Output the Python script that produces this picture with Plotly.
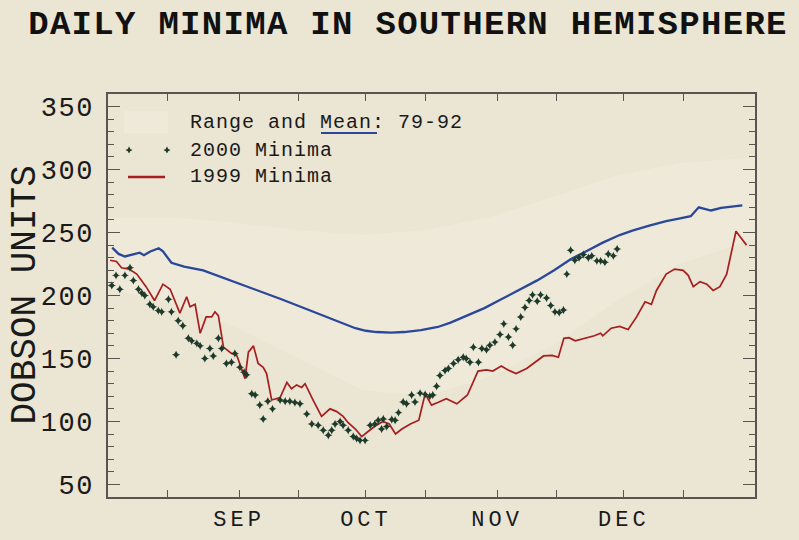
import plotly.graph_objects as go

# ---------------- data (x = days since 1 Aug) ----------------
mean_days = [1, 2.5, 4, 6, 7.5, 8.5, 10, 12, 13, 15, 18, 22.5, 27, 31, 36, 41, 46, 51, 55, 58.5,
             61, 63.5, 67, 70, 74, 78, 81, 85, 89, 93, 97, 101.5, 105.5, 109.5, 113, 117, 121,
             124, 128, 132, 135, 137.8, 139.7, 141, 142.6, 145, 148, 150]
mean_vals = [238, 233, 231, 233, 234, 232, 235, 237.5, 235, 226, 223, 220, 214.5, 209, 203, 197,
             190.5, 184, 178.5, 174, 172, 171, 170.5, 171, 172.5, 175, 178.5, 184, 190, 197, 204,
             212, 220, 229, 235, 242, 248, 251.5, 255.5, 259, 261, 263, 270, 269, 267.5, 269.5,
             271, 271.5]

range_days = [0, 15, 30, 45, 60, 75, 90, 105, 120, 135, 153]
range_high = [262, 262, 258, 252, 248, 252, 262, 278, 295, 305, 310]
range_low = [205, 195, 175, 150, 125, 120, 135, 160, 195, 225, 245]

red_days = [0.5, 2, 3.2, 5, 6.8, 9, 11, 13, 14.7, 17, 18.6, 19.4, 20.6, 21.8, 23.2, 24.5, 25.3,
            26.1, 27.3, 29.2, 30.4, 32.4, 33.2, 34.4, 35.5, 36.7, 37.5, 38.7, 40.7, 42.3, 43.4,
            44.6, 45.8, 46.6, 48.5, 50.5, 52.5, 54, 55.6, 56.8, 58.5, 60, 61.5, 63, 65, 66.5,
            68, 69.5, 71.5, 73.5, 75, 76.5, 78, 80, 82.5, 85, 87.5, 89.5, 91, 93, 94.5, 96.5,
            99, 101, 103, 105, 106.5, 107.8, 109, 110.5, 113, 115, 116.5, 117, 119, 121, 123,
            125, 127, 128.5, 129.7, 132, 134, 136, 137.2, 138.4, 140, 141.6, 143.1, 144.7,
            146.3, 147.5, 148.5, 149.4, 151]
red_vals = [228, 227, 222, 221, 217, 207, 196, 209, 205, 186, 199, 191, 193, 170, 183, 183, 187,
            184, 159, 154, 153, 134, 155, 160, 146, 143, 138, 117, 119, 131, 126, 129, 127, 130,
            117, 104, 110, 108, 104, 99, 94, 88, 92, 96, 100, 98, 90, 94, 98, 101, 122, 113, 115,
            118, 114, 121, 140, 141, 140, 144, 141, 138, 142, 147, 152, 152.5, 151, 166, 166.5,
            164, 166, 168, 170, 168, 174, 175.5, 173, 183, 195, 193, 204, 217, 221, 220, 216,
            207, 211, 209, 204, 207, 217, 236, 251, 247, 240]

dot_days = [0.9, 1.9, 2.8, 4.0, 5.2, 6.0, 7.2, 8.0, 8.7, 9.9, 10.7, 11.9, 12.7, 14.3, 15.0, 16.1,
            16.6, 17.7, 19.0, 19.8, 21.0, 21.8, 22.9, 24.1, 24.9, 26.1, 26.9, 28.0, 29.2, 30.0,
            31.2, 32.2, 32.8, 34.0, 34.8, 35.9, 36.7, 37.8, 38.9, 40.7, 41.9, 43.0, 44.2, 45.4,
            47.0, 48.2, 49.7, 50.9, 52.1, 52.9, 53.7, 54.9, 55.6, 56.8, 58.0, 58.8, 59.6, 60.8,
            62.0, 63.1, 63.9, 64.7, 65.1, 65.9, 67.1, 67.9, 68.7, 69.8, 70.6, 71.8, 72.6, 73.8,
            75.0, 76.1, 76.8, 77.7, 78.5, 79.7, 80.5, 81.7, 82.8, 84.0, 84.7, 85.6, 86.4, 87.6,
            88.4, 89.5, 90.3, 91.5, 92.7, 93.6, 94.7, 95.7, 96.5, 97.6, 98.6, 99.6, 100.4, 101.5,
            102.3, 103.7, 104.7, 105.7, 106.7, 107.7, 108.5, 109.4, 110.4, 111.4, 112.4, 113.6,
            114.4, 115.6, 116.5, 117.5, 118.3, 119.5, 120.4]
dot_vals = [208, 216, 205, 216, 222, 212, 205, 202, 200, 193, 191, 188, 187, 197, 187, 153, 180,
            176, 166, 164, 162, 160, 150, 158, 152, 166, 158, 146, 147, 154, 143, 139, 137, 122,
            121, 113, 102, 116, 110, 117, 116, 116, 115, 114, 106, 98, 97, 93, 89, 93, 98, 100,
            97, 93, 88, 86.5, 85, 85, 97, 98, 101, 94, 102, 96, 101.5, 101, 107, 115.5, 114, 121,
            115.5, 122.5, 121.5, 120, 121, 128, 136.5, 140.5, 142, 146, 149, 151, 150, 147, 159,
            147, 158, 157, 160.5, 163, 169, 177.5, 167, 160.5, 173.5, 183, 190.5, 196, 200.5,
            195.5, 200.5, 198, 192, 187, 186.5, 188.5, 217, 236, 228, 230, 232.5, 230, 231.5,
            227.5, 227.5, 226.5, 233, 231.5, 237]

month_ticks = [31, 61, 92, 122]
month_labels = ["SEP", "OCT", "NOV", "DEC"]
mid_month_ticks = [14, 45, 75, 106, 136]
y_ticks = [50, 100, 150, 200, 250, 300, 350]

# ---------------- styling ----------------
W, H = 799, 540
L, R, T, B = 108, 44, 94, 43
PW, PH = W - L - R, H - T - B
BG = "#EBE5D3"
BAND = "#EEE9D9"
BLUE = "#2A4799"
RED = "#A81E1E"
DOT = "#1E3A2A"
AX = "#5A5550"
FONT = "Liberation Mono"


def px_x(p):
    return (p - L) / PW


def px_y(p):
    return (H - B - p) / PH


def spaced(s, ls):
    return f'<span style="letter-spacing:{ls}px">{s}</span>'


fig = go.Figure()

# range band (1979-92)
fig.add_trace(go.Scatter(x=range_days, y=range_low, mode="lines", line=dict(width=0),
                         showlegend=False, hoverinfo="skip"))
fig.add_trace(go.Scatter(x=range_days, y=range_high, mode="lines", line=dict(width=0),
                         fill="tonexty", fillcolor=BAND, showlegend=False, hoverinfo="skip"))
# mean
fig.add_trace(go.Scatter(x=mean_days, y=mean_vals, mode="lines",
                         line=dict(color=BLUE, width=2.3), showlegend=False))
# 1999
fig.add_trace(go.Scatter(x=red_days, y=red_vals, mode="lines",
                         line=dict(color=RED, width=1.7), showlegend=False))
# 2000
fig.add_trace(go.Scatter(x=dot_days, y=dot_vals, mode="markers",
                         marker=dict(symbol="star-diamond", size=6, color=DOT),
                         showlegend=False))

# legend markers on an overlay axis in paper-like units
fig.add_trace(go.Scatter(x=[px_x(129), px_x(167)], y=[px_y(150), px_y(150)], mode="markers",
                         marker=dict(symbol="star-diamond", size=5, color=DOT),
                         xaxis="x2", yaxis="y2", showlegend=False, hoverinfo="skip"))

shapes = [
    dict(type="rect", xref="paper", yref="paper", x0=px_x(124), x1=px_x(168),
         y0=px_y(133), y1=px_y(111), fillcolor=BAND, line=dict(width=0), layer="below"),
    dict(type="line", xref="paper", yref="paper", x0=px_x(321), x1=px_x(377),
         y0=px_y(133), y1=px_y(133), line=dict(color=BLUE, width=2)),
    dict(type="line", xref="paper", yref="paper", x0=px_x(128), x1=px_x(165),
         y0=px_y(177), y1=px_y(177), line=dict(color=RED, width=2.5)),
]

leg_font = dict(family=FONT, size=20, color="#1a1a1a")
annotations = [
    dict(text=spaced("Range and Mean: 79-92", 1), x=px_x(188), y=px_y(122), xref="paper",
         yref="paper", xanchor="left", yanchor="middle", showarrow=False, font=leg_font),
    dict(text=spaced("2000 Minima", 1), x=px_x(188), y=px_y(150), xref="paper",
         yref="paper", xanchor="left", yanchor="middle", showarrow=False, font=leg_font),
    dict(text=spaced("1999 Minima", 1), x=px_x(188), y=px_y(176), xref="paper",
         yref="paper", xanchor="left", yanchor="middle", showarrow=False, font=leg_font),
    dict(text="DOBSON UNITS", textangle=-90, x=px_x(25), y=0.5, xref="paper", yref="paper",
         xanchor="center", yanchor="middle", showarrow=False,
         font=dict(family=FONT, size=36, color="#1a1a1a")),
]

fig.update_layout(
    width=W, height=H,
    margin=dict(l=L, r=R, t=T, b=B, autoexpand=False),
    paper_bgcolor=BG, plot_bgcolor=BG,
    title=dict(text="<b>" + spaced("DAILY MINIMA IN SOUTHERN HEMISPHERE", 1.3) + "</b>",
               x=408 / W, xanchor="center", xref="container", y=1 - 22 / H,
               yanchor="middle", yref="container",
               font=dict(family=FONT, size=34, color="#111")),
    shapes=shapes,
    annotations=annotations,
    showlegend=False,
    xaxis=dict(range=[0, 153], showline=True, linecolor=AX, linewidth=1.5, mirror="ticks",
               ticks="inside", ticklen=7, tickcolor=AX, tickwidth=1, automargin=False,
               tickvals=month_ticks, ticktext=[spaced(m, 4) for m in month_labels],
               tickfont=dict(family=FONT, size=22, color="#1a1a1a"),
               ticklabelstandoff=1,
               minor=dict(tickvals=mid_month_ticks, ticks="inside", ticklen=7, tickcolor=AX),
               showgrid=False, zeroline=False),
    yaxis=dict(range=[40, 360], showline=True, linecolor=AX, linewidth=1.5, mirror="ticks",
               ticks="inside", ticklen=12, tickcolor=AX, tickwidth=1, automargin=False,
               tickvals=y_ticks, ticktext=[spaced(str(v), 1.5) for v in y_ticks],
               tickfont=dict(family=FONT, size=27, color="#1a1a1a"),
               ticklabelstandoff=7,
               minor=dict(tick0=40, dtick=10, ticks="inside", ticklen=6, tickcolor=AX),
               showgrid=False, zeroline=False),
    xaxis2=dict(overlaying="x", range=[0, 1], visible=False),
    yaxis2=dict(overlaying="y", range=[0, 1], visible=False),
)

fig.write_html(
    "out.html",
    config={"displayModeBar": False},
    post_script="document.body.style.margin='0';document.body.style.background='" + BG + "';",
)
